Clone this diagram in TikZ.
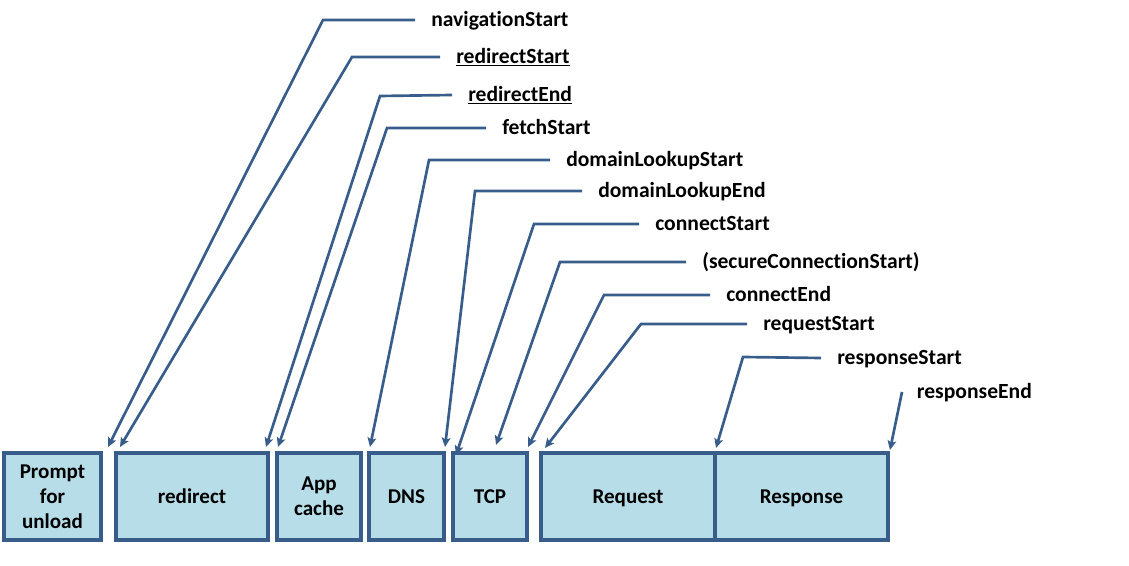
\documentclass[tikz,border=0pt]{standalone}
\usepackage{fontspec}
\setmainfont{Carlito}[Ligatures=NoCommon]
\usetikzlibrary{arrows.meta}
\definecolor{lineblue}{HTML}{385D8A}
\definecolor{boxblue}{HTML}{B7DDE8}
\begin{document}
\begin{tikzpicture}[x=0.75pt,y=-0.75pt,
  phase/.style={draw=lineblue,fill=boxblue,line width=2.5pt,minimum height=65.25pt,inner sep=0pt,
    text depth=0pt,font=\fontsize{15.8}{18.75}\selectfont\bfseries,align=center},
  lbl/.style={anchor=west,inner xsep=12pt,inner ysep=0pt,text height=12pt,text depth=2.5pt,
    font=\fontsize{16.2}{19}\selectfont\bfseries},
  lead/.style={draw=lineblue,line width=2pt,-{Stealth[length=7pt,width=6.5pt,inset=1.5pt]}}]
\useasboundingbox (0,0) rectangle (1129,566);
% the phases
\node[phase,minimum width=72.75pt] (prompt) at (52.5,496.5) {Prompt\\for\\unload};
\node[phase,minimum width=114pt] (redirect) at (192,496.5) {redirect};
\node[phase,minimum width=63pt] (appcache) at (319,496.5) {App\\cache};
\node[phase,minimum width=56.25pt] (dns) at (406.5,496.5) {DNS};
\node[phase,minimum width=55.5pt] (tcp) at (490,496.5) {TCP};
\node[phase,minimum width=130.5pt] (request) at (628,496.5) {Request};
\node[phase,minimum width=129.75pt] (response) at (801.5,496.5) {Response};
% the timing marks
\node[lbl] (navigationStart) at (415,20) {navigationStart};
\node[lbl] (redirectStart) at (440,57) {\underline{redirectStart}};
\node[lbl] (redirectEnd) at (452,95) {\underline{redirectEnd}};
\node[lbl] (fetchStart) at (486,128) {fetchStart};
\node[lbl] (domainLookupStart) at (550,160) {domainLookupStart};
\node[lbl] (domainLookupEnd) at (582,191) {domainLookupEnd};
\node[lbl] (connectStart) at (639,224) {connectStart};
\node[lbl] (secureConnectionStart) at (686,262) {(secureConnectionStart)};
\node[lbl] (connectEnd) at (710,295) {connectEnd};
\node[lbl] (requestStart) at (747,324) {requestStart};
\node[lbl] (responseStart) at (821,358) {responseStart};
\node[lbl,inner xsep=11pt] (responseEnd) at (902,392) {responseEnd};
% where the arrows land
\coordinate (navigationStart tip) at (108,447);
\coordinate (redirectStart tip) at (120,447);
\coordinate (redirectEnd tip) at (266,447);
\coordinate (fetchStart tip) at (278,447);
\coordinate (domainLookupStart tip) at (370,447);
\coordinate (domainLookupEnd tip) at (445,447);
\coordinate (connectStart tip) at (456,455);
\coordinate (secureConnectionStart tip) at (496,445);
\coordinate (connectEnd tip) at (528,447);
\coordinate (requestStart tip) at (545,448);
\coordinate (responseStart tip) at (716,448);
\coordinate (responseEnd tip) at (890,450);
% the leaders
\draw[lead] (navigationStart.west) -- (323,20) -- (navigationStart tip);
\draw[lead] (redirectStart.west) -- (352,57) -- (redirectStart tip);
\draw[lead] (redirectEnd.west) -- (380,96) -- (redirectEnd tip);
\draw[lead] (fetchStart.west) -- (387,128) -- (fetchStart tip);
\draw[lead] (domainLookupStart.west) -- (429,160) -- (domainLookupStart tip);
\draw[lead] (domainLookupEnd.west) -- (475,191) -- (domainLookupEnd tip);
\draw[lead] (connectStart.west) -- (534,224) -- (connectStart tip);
\draw[lead] (secureConnectionStart.west) -- (560,262) -- (secureConnectionStart tip);
\draw[lead] (connectEnd.west) -- (604,295) -- (connectEnd tip);
\draw[lead] (requestStart.west) -- (641,324) -- (requestStart tip);
\draw[lead] (responseStart.west) -- (743,357) -- (responseStart tip);
\draw[lead] (responseEnd.west) -- (responseEnd tip);
\end{tikzpicture}
\end{document}
